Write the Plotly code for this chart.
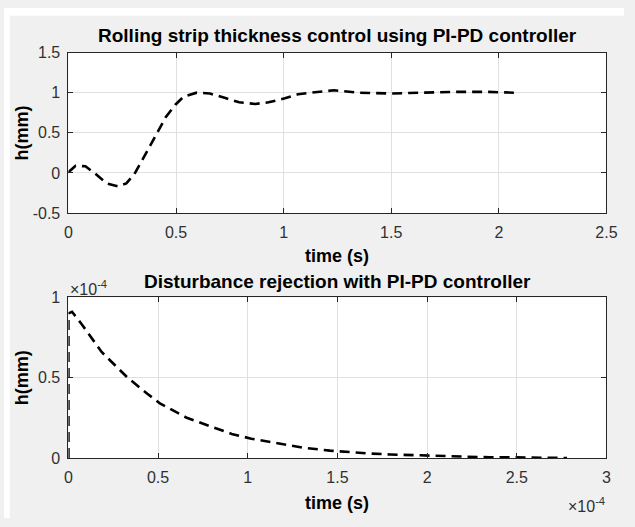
import plotly.graph_objects as go

# ---- data ----
t_top = [0.0, 0.033, 0.079, 0.125, 0.178, 0.231, 0.269, 0.307, 0.353, 0.406, 0.451, 0.497,
         0.535, 0.596, 0.657, 0.733, 0.793, 0.869, 0.93, 1.006, 1.067, 1.128, 1.234, 1.35,
         1.5, 1.65, 1.8, 1.95, 2.07]
h_top = [0.01, 0.09, 0.084, -0.01, -0.13, -0.167, -0.13, -0.01, 0.21, 0.47, 0.69, 0.85,
         0.95, 1.0, 0.99, 0.93, 0.88, 0.86, 0.88, 0.93, 0.98, 1.0, 1.03, 1.0,
         0.99, 1.0, 1.01, 1.01, 1.0]

t_bot = [0.0, 0.0, 0.02, 0.076, 0.185, 0.33, 0.44, 0.51, 0.66, 0.785, 0.91, 1.02, 1.15,
         1.31, 1.458, 1.567, 1.676, 1.795, 1.904, 2.019, 2.128, 2.24, 2.35, 2.459, 2.57,
         2.68, 2.78]
h_bot = [0.0, 0.90, 0.91, 0.83, 0.66, 0.50, 0.40, 0.34, 0.25, 0.20, 0.15, 0.12, 0.094,
         0.064, 0.046, 0.036, 0.028, 0.022, 0.018, 0.012, 0.008, 0.006, 0.004, 0.004, 0.002,
         0.0, 0.0]
SCALE = 1e-4
t_bot_s = [v * SCALE for v in t_bot]
h_bot_mm = [v * SCALE for v in h_bot]

top_xticks = [0, 0.5, 1, 1.5, 2, 2.5]
top_yticks = [-0.5, 0, 0.5, 1, 1.5]
bot_xticks = [0, 0.5, 1, 1.5, 2, 2.5, 3]
bot_yticks = [0, 0.5, 1]

title_top = "Rolling strip thickness control using PI-PD controller"
title_bot = "Disturbance rejection with PI-PD controller"

W, H = 635, 527
L, R = 66, 617
T1, B1 = 46, 212
T2, B2 = 299, 465

def px(x):
    return x / W

def py(y):
    return 1 - y / H

FONT = "Liberation Sans, Arial, sans-serif"
TXT = "#303030"
GRID = "#e0e0e0"

fig = go.Figure()
line = dict(color="black", width=2.6, dash="10px,6px")
fig.add_trace(go.Scatter(x=t_top, y=h_top, mode="lines", line=line, xaxis="x", yaxis="y",
                         showlegend=False, hoverinfo="skip"))
fig.add_trace(go.Scatter(x=t_bot_s, y=h_bot_mm, mode="lines", line=line, xaxis="x2", yaxis="y2",
                         showlegend=False, hoverinfo="skip"))

def fmt(v):
    return "%g" % v

axis_common = dict(showgrid=True, gridcolor=GRID, gridwidth=1, zeroline=False,
                   showline=True, linecolor="#262626", linewidth=1, mirror="ticks",
                   ticks="inside", ticklen=5, tickcolor="#262626", tickwidth=1,
                   tickfont=dict(family=FONT, size=16, color=TXT), fixedrange=True)

fig.update_layout(
    width=W, height=H, autosize=False, hovermode=False,
    margin=dict(l=0, r=0, t=0, b=0),
    paper_bgcolor="#f0f0f0", plot_bgcolor="white",
    xaxis=dict(domain=[px(L), px(R)], anchor="y", range=[0, 2.5],
               tickvals=top_xticks, ticktext=[fmt(v) for v in top_xticks],
               ticklabelstandoff=5, **axis_common),
    yaxis=dict(domain=[py(B1), py(T1)], anchor="x", range=[-0.5, 1.5],
               tickvals=top_yticks, ticktext=[fmt(v) for v in top_yticks],
               ticklabelstandoff=4, **axis_common),
    xaxis2=dict(domain=[px(L), px(R)], anchor="y2", range=[0, 3 * SCALE],
                tickvals=[v * SCALE for v in bot_xticks], ticktext=[fmt(v) for v in bot_xticks],
                ticklabelstandoff=5, **axis_common),
    yaxis2=dict(domain=[py(B2), py(T2)], anchor="x2", range=[0, 1 * SCALE],
                tickvals=[v * SCALE for v in bot_yticks], ticktext=[fmt(v) for v in bot_yticks],
                ticklabelstandoff=4, **axis_common),
)

# thin white border strips at top and left, as in the reference image
fig.update_layout(shapes=[
    dict(type="rect", xref="paper", yref="paper", x0=0, x1=px(6), y0=0, y1=1,
         fillcolor="white", line=dict(width=0), layer="below"),
    dict(type="rect", xref="paper", yref="paper", x0=0, x1=1, y0=py(8), y1=1,
         fillcolor="white", line=dict(width=0), layer="below"),
])

ann = []
def text(x, y, s, size, bold=False, xanchor="center", yanchor="middle", angle=0):
    ann.append(dict(x=px(x), y=py(y), xref="paper", yref="paper", showarrow=False,
                    text=("<b>%s</b>" % s) if bold else s, textangle=angle,
                    font=dict(family=FONT, size=size, color="black" if bold else TXT),
                    xanchor=xanchor, yanchor=yanchor))

text((L + R) / 2, 28, title_top, 19, bold=True)
text((L + R) / 2, 283, title_bot, 19, bold=True)
text((L + R) / 2, 256, "time (s)", 18, bold=True)
text((L + R) / 2, 512, "time (s)", 18, bold=True)
text(18, (T1 + B1) / 2, "h(mm)", 18, bold=True, angle=-90)
text(18, (T2 + B2) / 2, "h(mm)", 18, bold=True, angle=-90)
text(66, 289, "×10<sup>-4</sup>", 16, xanchor="left")
text(618, 514, "×10<sup>-4</sup>", 16, xanchor="right")
fig.update_layout(annotations=ann)

# remove the page's default body margin so the figure sits at the window origin
fig.write_html("out.html",
               config={"displayModeBar": False, "staticPlot": True},
               post_script="document.body.style.margin='0';document.body.style.overflow='hidden';")
